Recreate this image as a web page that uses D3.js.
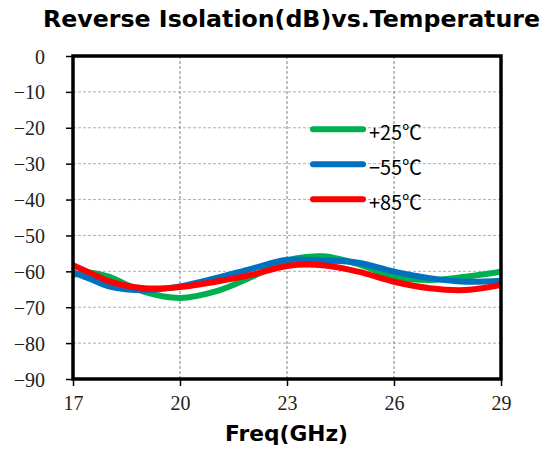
<!DOCTYPE html>
<html>
<head>
<meta charset="utf-8">
<script src="https://cdn.jsdelivr.net/npm/d3@7"></script>
<style>
  html, body { margin: 0; padding: 0; background: #fff; }
  svg { display: block; }
</style>
</head>
<body>
<svg id="chart" width="558" height="453"></svg>
<script>
// ---- data ----
const freqs = [17, 17.5, 18, 19, 20, 21, 22, 23, 24, 25, 26, 27, 28, 29];
const temp25 = [-61, -60.4, -61.5, -65.7, -67.4, -65.6, -61.6, -57, -55.8, -58, -61.5, -62.4, -61.5, -60.1];
const tempM55 = [-60.3, -62.2, -64.2, -65.3, -64.2, -61.9, -59.3, -56.8, -57, -57.6, -60.1, -61.9, -62.9, -62.6];
const temp85 = [-58.3, -60.5, -62.7, -64.7, -64.4, -62.9, -61, -58.5, -58.3, -60.1, -62.9, -64.7, -65.2, -63.8];
const seriesNames = ["+25℃", "\u221255℃", "+85℃"];
const seriesColors = ["#00B050", "#0070C0", "#FF0000"];
const xTicks = [17, 20, 23, 26, 29];
const yTicks = [0, -10, -20, -30, -40, -50, -60, -70, -80, -90];
const titleText = "Reverse Isolation(dB)vs.Temperature";
const xTitle = "Freq(GHz)";

const series = [temp25, tempM55, temp85].map((vals, i) => ({
  name: seriesNames[i], color: seriesColors[i],
  points: freqs.map((f, j) => [f, vals[j]])
}));

const svg = d3.select("#chart");
const L = 73, R = 501, T = 56, B = 379;
const x = d3.scaleLinear().domain([17, 29]).range([L, R]);
const y = d3.scaleLinear().domain([-90, 0]).range([B, T]);

// grid
const grid = svg.append("g");
grid.selectAll("line.h").data(yTicks.filter(d => d !== 0 && d !== -90)).join("line")
  .attr("x1", L).attr("x2", R).attr("y1", d => y(d)).attr("y2", d => y(d))
  .attr("stroke", "#b0b0b0").attr("stroke-width", 1).attr("stroke-dasharray", "3,2");
grid.selectAll("line.v").data(xTicks.filter(d => d !== 17 && d !== 29)).join("line")
  .attr("y1", T).attr("y2", B).attr("x1", d => x(d)).attr("x2", d => x(d))
  .attr("stroke", "#808080").attr("stroke-width", 1).attr("stroke-dasharray", "3,2");

// lines
const line = d3.line().x(d => x(d[0])).y(d => y(d[1])).curve(d3.curveCatmullRom.alpha(0.5));
const clip = svg.append("clipPath").attr("id", "clip").append("rect")
  .attr("x", L).attr("y", T).attr("width", R - L).attr("height", B - T);
svg.append("g").attr("clip-path", "url(#clip)")
  .selectAll("path").data(series).join("path")
  .attr("d", d => line(d.points))
  .attr("fill", "none").attr("stroke", d => d.color).attr("stroke-width", 6)
  .attr("stroke-linejoin", "round");

// axes
const yAxis = d3.axisLeft(y).tickValues(yTicks).tickSize(7).tickSizeOuter(0)
  .tickFormat(d => d < 0 ? "\u2212" + Math.abs(d) : String(d));
const gy = svg.append("g").attr("transform", `translate(${L},0)`).call(yAxis);
gy.select(".domain").remove();
gy.selectAll(".tick line").attr("stroke", "#000").attr("stroke-width", 1.5);
gy.selectAll(".tick text").attr("x", -28).attr("dy", "0.35em")
  .attr("font-family", "'Liberation Serif', 'DejaVu Serif', serif").attr("font-size", 20).attr("fill", "#222");

const xAxis = d3.axisBottom(x).tickValues(xTicks).tickSize(7).tickSizeOuter(0);
const gx = svg.append("g").attr("transform", `translate(0,${B})`).call(xAxis);
gx.select(".domain").remove();
gx.selectAll(".tick line").attr("stroke", "#000").attr("stroke-width", 1.5);
gx.selectAll(".tick text").attr("y", 17).attr("dy", "0.71em")
  .attr("font-family", "'Liberation Serif', 'DejaVu Serif', serif").attr("font-size", 20).attr("fill", "#222");

// frame
svg.append("rect").attr("x", L).attr("y", T).attr("width", R - L).attr("height", B - T)
  .attr("fill", "none").attr("stroke", "#000").attr("stroke-width", 3.5);

// title
svg.append("text").attr("x", 291.5).attr("y", 27).attr("text-anchor", "middle")
  .attr("font-family", "'DejaVu Sans', sans-serif").attr("font-weight", "bold").attr("font-size", 23)
  .attr("textLength", 497).attr("lengthAdjust", "spacingAndGlyphs")
  .attr("fill", "#000").text(titleText);

svg.append("text").attr("x", 286.5).attr("y", 441).attr("text-anchor", "middle")
  .attr("font-family", "'DejaVu Sans', sans-serif").attr("font-weight", "bold").attr("font-size", 21)
  .attr("textLength", 123).attr("lengthAdjust", "spacingAndGlyphs")
  .attr("fill", "#000").text(xTitle);

// legend
const legY = [129.3, 164.3, 199.3];
const leg = svg.append("g").selectAll("g").data(series).join("g")
  .attr("transform", (d, i) => `translate(0,${legY[i]})`);
leg.append("line").attr("x1", 313).attr("x2", 363).attr("y1", 0).attr("y2", 0)
  .attr("stroke", d => d.color).attr("stroke-width", 6).attr("stroke-linecap", "round");
leg.append("text").attr("x", 369).attr("y", 0).attr("dy", 10.5)
  .attr("font-family", "'Noto Sans CJK SC', 'Noto Sans', sans-serif").attr("font-size", 20)
  .attr("textLength", 53).attr("lengthAdjust", "spacingAndGlyphs")
  .attr("fill", "#000").text(d => d.name);
</script>
</body>
</html>
